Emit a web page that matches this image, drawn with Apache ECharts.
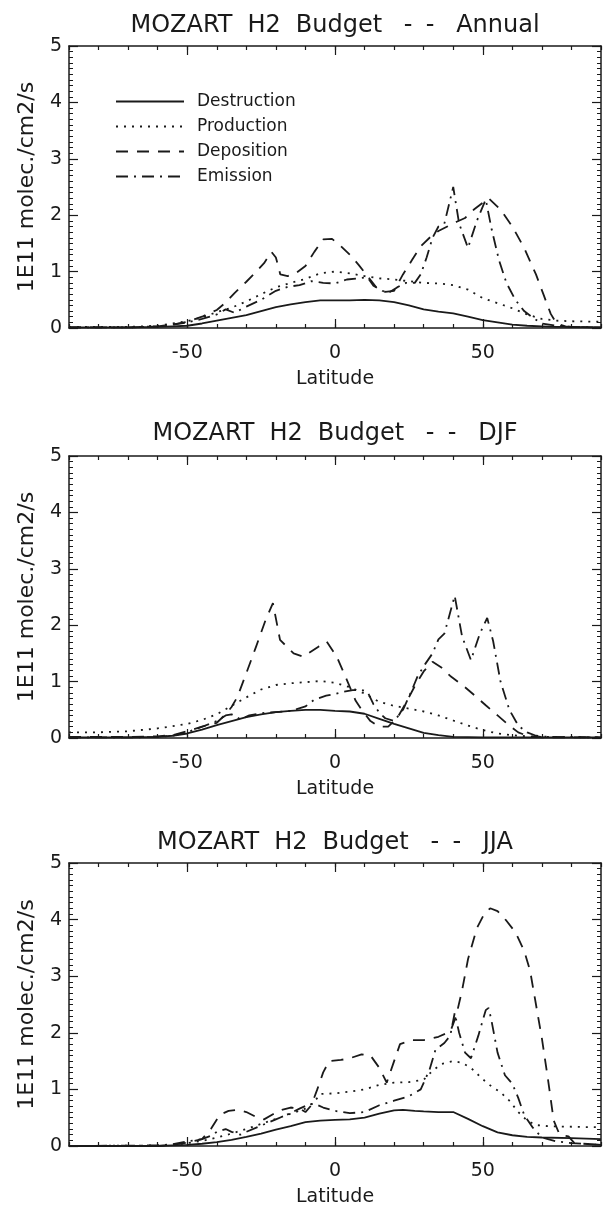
<!DOCTYPE html>
<html>
<head>
<meta charset="utf-8">
<script src="https://cdn.jsdelivr.net/npm/echarts@6/dist/echarts.min.js"></script>
<style>
  html, body { margin: 0; padding: 0; background: #ffffff; }
  #chart { width: 603px; height: 1208px; }
</style>
</head>
<body>
<div id="chart"></div>
<script>
// ---------------- DATA ----------------
const panelSeasons = ['Annual', 'DJF', 'JJA'];
const seriesNames = ['Destruction', 'Production', 'Deposition', 'Emission'];
const latTickLabels = [-50, 0, 50];
const latMajorTicks = [-50, 0, 50];
const yAxisName = '1E11 molec./cm2/s';
const xAxisName = 'Latitude';

// Annual  [latitude, value]
const annualDestruction = [[-90,0.01],[-70,0.01],[-60,0.02],[-55,0.03],[-50,0.04],[-45,0.08],[-40,0.13],[-35,0.18],[-30,0.23],[-25,0.3],[-20,0.37],[-15,0.42],[-10,0.46],[-5,0.49],[0,0.49],[5,0.49],[10,0.5],[15,0.49],[20,0.46],[25,0.4],[30,0.33],[35,0.29],[40,0.26],[45,0.2],[50,0.14],[55,0.1],[60,0.06],[65,0.04],[70,0.03],[75,0.02],[80,0.02],[90,0.01]];
const annualProduction = [[-90,0.02],[-70,0.02],[-60,0.04],[-55,0.08],[-50,0.12],[-45,0.19],[-40,0.28],[-35,0.36],[-30,0.47],[-25,0.6],[-20,0.72],[-15,0.8],[-10,0.87],[-5,0.97],[0,1.0],[5,0.97],[10,0.92],[15,0.88],[20,0.86],[25,0.83],[30,0.8],[35,0.79],[40,0.76],[45,0.68],[50,0.53],[55,0.44],[60,0.35],[65,0.24],[70,0.16],[75,0.13],[80,0.12],[90,0.11]];
const annualDeposition = [[-90,0.01],[-70,0.01],[-60,0.03],[-55,0.06],[-50,0.11],[-45,0.2],[-40,0.32],[-37,0.45],[-34,0.62],[-30,0.82],[-27,0.98],[-24,1.15],[-21.5,1.35],[-20,1.25],[-18.5,0.95],[-16,0.92],[-13,0.98],[-10,1.1],[-7,1.35],[-4,1.57],[-1,1.58],[2,1.45],[5,1.3],[8,1.12],[11,0.92],[14,0.72],[17,0.64],[20,0.66],[23,0.95],[26,1.2],[29,1.45],[32,1.6],[35,1.72],[38,1.8],[41,1.88],[44,1.95],[47,2.1],[50,2.22],[52,2.3],[56,2.1],[60,1.8],[64,1.42],[68,0.95],[70.5,0.6],[73,0.25],[75,0.08],[78,0.03],[80,0.02],[90,0.01]];
const annualEmission = [[-90,0.01],[-70,0.01],[-60,0.03],[-55,0.06],[-50,0.1],[-45,0.16],[-40,0.24],[-37,0.33],[-34,0.27],[-30,0.38],[-25,0.5],[-20,0.66],[-16,0.73],[-12,0.76],[-8,0.83],[-4,0.8],[0,0.79],[4,0.86],[8,0.88],[11,0.9],[13,0.75],[16,0.66],[18,0.62],[21,0.72],[24,0.8],[27,0.8],[29,0.95],[31,1.25],[33,1.6],[35,1.8],[37,1.85],[40,2.5],[42,1.85],[45,1.42],[48,1.9],[51,2.28],[53,1.75],[55.5,1.2],[58,0.8],[61,0.5],[64,0.3],[67,0.18],[70,0.08],[75,0.04],[80,0.02],[90,0.01]];

// DJF
const djfDestruction = [[-90,0.01],[-70,0.01],[-60,0.02],[-55,0.04],[-50,0.08],[-45,0.15],[-40,0.23],[-35,0.3],[-30,0.37],[-25,0.42],[-20,0.46],[-15,0.48],[-10,0.5],[-5,0.5],[0,0.48],[5,0.47],[10,0.43],[15,0.34],[20,0.25],[25,0.17],[30,0.09],[35,0.05],[40,0.02],[50,0.01],[90,0.01]];
const djfProduction = [[-90,0.1],[-80,0.1],[-70,0.12],[-60,0.17],[-50,0.25],[-45,0.32],[-40,0.42],[-35,0.57],[-30,0.72],[-25,0.86],[-20,0.94],[-15,0.97],[-10,0.99],[-5,1.01],[0,0.98],[5,0.9],[10,0.79],[15,0.64],[20,0.57],[25,0.52],[30,0.47],[35,0.4],[40,0.31],[45,0.22],[50,0.14],[55,0.08],[60,0.05],[65,0.03],[70,0.02],[90,0.01]];
const djfDeposition = [[-90,0.02],[-70,0.02],[-60,0.03],[-55,0.05],[-50,0.12],[-45,0.2],[-40,0.27],[-37,0.42],[-35,0.55],[-33,0.73],[-30,1.15],[-26.7,1.62],[-23.5,2.09],[-21,2.39],[-18.6,1.74],[-14,1.5],[-10.7,1.44],[-5.6,1.62],[-2.8,1.71],[0.6,1.44],[4,1.03],[7,0.66],[9,0.5],[12,0.3],[15,0.2],[18,0.2],[21,0.35],[24,0.62],[27,0.92],[30,1.18],[33,1.35],[36,1.25],[39,1.1],[42,0.98],[44,0.9],[48,0.72],[51,0.58],[55,0.4],[59,0.22],[62,0.1],[65,0.04],[70,0.01],[90,0.01]];
const djfEmission = [[-90,0.01],[-70,0.01],[-60,0.02],[-55,0.04],[-50,0.1],[-45,0.2],[-40,0.3],[-37,0.4],[-35,0.42],[-32,0.33],[-29,0.4],[-25,0.44],[-20,0.46],[-15,0.48],[-10,0.56],[-7,0.68],[-3,0.75],[0,0.78],[3,0.82],[6,0.85],[9,0.85],[11,0.82],[13,0.6],[15,0.45],[17,0.35],[20,0.3],[23,0.5],[26,0.85],[28,1.1],[30.5,1.31],[33,1.5],[35,1.75],[37,1.85],[40.5,2.52],[43,1.8],[46,1.38],[49,1.85],[51.5,2.13],[53.5,1.72],[56,1.0],[59,0.5],[62,0.22],[65,0.1],[68,0.04],[72,0.02],[90,0.01]];

// JJA
const jjaDestruction = [[-90,0],[-60,0],[-55,0.01],[-50,0.02],[-45,0.04],[-40,0.07],[-35,0.11],[-30,0.16],[-25,0.22],[-20,0.29],[-15,0.35],[-10,0.42],[-5,0.45],[0,0.46],[5,0.47],[10,0.5],[15,0.57],[20,0.63],[23,0.64],[27,0.62],[30,0.61],[35,0.6],[40,0.6],[45,0.48],[50,0.35],[55,0.24],[60,0.19],[65,0.16],[70,0.15],[80,0.14],[90,0.12]];
const jjaProduction = [[-90,0],[-60,0.01],[-55,0.02],[-50,0.05],[-45,0.09],[-40,0.15],[-35,0.22],[-30,0.3],[-25,0.39],[-20,0.48],[-15,0.57],[-10,0.66],[-7,0.78],[-5,0.92],[0,0.93],[5,0.96],[10,1.0],[15,1.08],[20,1.12],[25,1.13],[30,1.17],[33,1.33],[36,1.45],[40,1.5],[43,1.47],[46,1.38],[50,1.18],[53,1.05],[56,0.95],[59,0.8],[62,0.6],[65,0.45],[68,0.37],[72,0.35],[80,0.34],[90,0.33]];
const jjaDeposition = [[-90,0],[-60,0],[-55,0.02],[-50,0.06],[-45,0.12],[-42,0.3],[-39,0.55],[-36,0.62],[-33,0.64],[-30,0.6],[-27,0.52],[-24,0.47],[-21,0.56],[-18,0.64],[-15,0.68],[-12,0.66],[-10,0.6],[-8,0.72],[-6,1.0],[-4,1.3],[-2,1.5],[2,1.52],[5,1.55],[9,1.62],[12,1.6],[15,1.38],[17.5,1.12],[20,1.5],[22,1.8],[26,1.87],[30,1.87],[35,1.93],[39,2.02],[41,2.3],[43,2.75],[45,3.3],[48,3.85],[50.5,4.1],[52.5,4.2],[55,4.15],[58,3.98],[61,3.78],[64,3.45],[66,3.1],[68,2.5],[70,1.9],[72,1.2],[74,0.45],[76,0.2],[79,0.17],[81,0.05],[90,0.02]];
const jjaEmission = [[-90,0],[-60,0.01],[-55,0.03],[-50,0.08],[-45,0.12],[-42,0.18],[-40,0.25],[-37,0.3],[-35,0.25],[-32,0.2],[-30,0.25],[-25,0.36],[-20,0.47],[-15,0.58],[-12,0.66],[-9,0.73],[-7,0.75],[-4,0.68],[0,0.62],[5,0.58],[10,0.6],[15,0.72],[20,0.8],[25,0.88],[29,1.0],[32,1.35],[34,1.7],[37,1.82],[39,1.95],[40.5,2.35],[42,2.0],[44,1.65],[46,1.55],[48.5,1.95],[51,2.4],[52,2.44],[53,2.2],[55,1.65],[57.5,1.25],[60,1.1],[62,0.85],[64,0.55],[67,0.32],[70,0.15],[75,0.08],[80,0.05],[90,0.02]];

// ---------------- CHART ----------------
const panelData = [
  [annualDestruction, annualProduction, annualDeposition, annualEmission],
  [djfDestruction, djfProduction, djfDeposition, djfEmission],
  [jjaDestruction, jjaProduction, jjaDeposition, jjaEmission]
];

const INK = '#1a1a1a';
const FONT = 'DejaVu Sans';
const lineTypes = ['solid', [2, 6], [12, 9], [12, 6, 2, 6]];

const gridTops = [46, 456, 863];
const gridHeights = [282, 282, 284];
const titleTops = [14, 422, 831];

const grids = [], xAxes = [], yAxes = [], titles = [], series = [];

panelData.forEach((sets, p) => {
  grids.push({ left: 69, width: 532, top: gridTops[p], height: gridHeights[p], containLabel: false });
  // title "MOZART H2 Budget -- <season>" with the wide IDL-style word spacing
  titles.push({
    text: 'MOZART{s| }H2{s| }Budget{s| }{d|-}{d|-}{s| }' + panelSeasons[p],
    left: 335, top: titleTops[p], textAlign: 'center', padding: 0,
    textStyle: {
      fontFamily: FONT, fontSize: 24, fontWeight: 'normal', color: INK,
      rich: {
        s: { width: 15, fontFamily: FONT, fontSize: 24, color: INK },
        d: { width: 22, align: 'center', fontFamily: FONT, fontSize: 24, color: INK }
      }
    }
  });
  const baseX = { gridIndex: p, type: 'value', min: -90, max: 90, splitLine: { show: false } };
  const axLine = { show: true, onZero: false, lineStyle: { color: INK, width: 1.5 } };
  xAxes.push(Object.assign({}, baseX, {
    position: 'bottom', interval: 10,
    axisLine: axLine,
    axisTick: { show: true, inside: true, length: 4, lineStyle: { color: INK, width: 1.2 } },
    axisLabel: { customValues: latTickLabels, margin: 16, fontFamily: FONT, fontSize: 19, color: INK },
    name: xAxisName, nameLocation: 'middle', nameGap: 42,
    nameTextStyle: { fontFamily: FONT, fontSize: 19, color: INK }
  }));
  xAxes.push(Object.assign({}, baseX, {
    position: 'bottom',
    axisLine: { show: false, onZero: false },
    axisTick: { show: true, inside: true, length: 9, customValues: latMajorTicks, lineStyle: { color: INK, width: 1.2 } },
    axisLabel: { show: false }
  }));
  xAxes.push(Object.assign({}, baseX, {
    position: 'top', interval: 10,
    axisLine: axLine,
    axisTick: { show: true, inside: true, length: 4, lineStyle: { color: INK, width: 1.2 } },
    axisLabel: { show: false }
  }));
  xAxes.push(Object.assign({}, baseX, {
    position: 'top',
    axisLine: { show: false, onZero: false },
    axisTick: { show: true, inside: true, length: 9, customValues: latMajorTicks, lineStyle: { color: INK, width: 1.2 } },
    axisLabel: { show: false }
  }));
  const baseY = {
    gridIndex: p, type: 'value', min: 0, max: 5, interval: 1,
    splitLine: { show: false }, minorSplitLine: { show: false },
    axisLine: axLine,
    axisTick: { show: true, inside: true, length: 9, lineStyle: { color: INK, width: 1.2 } },
    minorTick: { show: true, splitNumber: 10, length: 4, lineStyle: { color: INK, width: 1 } }
  };
  yAxes.push(Object.assign({}, baseY, {
    position: 'left',
    axisLabel: { margin: 7, fontFamily: FONT, fontSize: 19, color: INK },
    name: yAxisName, nameLocation: 'middle', nameGap: 31, nameRotate: 90,
    nameTextStyle: { fontFamily: FONT, fontSize: 22, color: INK }
  }));
  yAxes.push(Object.assign({}, baseY, {
    position: 'right',
    axisLabel: { show: false }
  }));
  sets.forEach((data, s) => {
    series.push({
      name: seriesNames[s], type: 'line', data: data,
      xAxisIndex: p * 4, yAxisIndex: p * 2,
      symbol: 'none', showSymbol: false, smooth: false, silent: true,
      lineStyle: { color: INK, width: 1.8, type: lineTypes[s] },
      itemStyle: { color: INK },
      emphasis: { disabled: true }
    });
  });
});

const chart = echarts.init(document.getElementById('chart'), null, { renderer: 'canvas' });
chart.setOption({
  backgroundColor: '#ffffff',
  animation: false,
  title: titles,
  legend: {
    data: seriesNames, orient: 'vertical', left: 115, top: 93, padding: 0,
    itemWidth: 68, itemHeight: 14, itemGap: 8, selectedMode: false,
    itemStyle: { opacity: 0, borderWidth: 0 },
    textStyle: { fontFamily: FONT, fontSize: 17, color: INK, padding: [0, 0, 0, 8] }
  },
  grid: grids,
  xAxis: xAxes,
  yAxis: yAxes,
  series: series
});
</script>
</body>
</html>
